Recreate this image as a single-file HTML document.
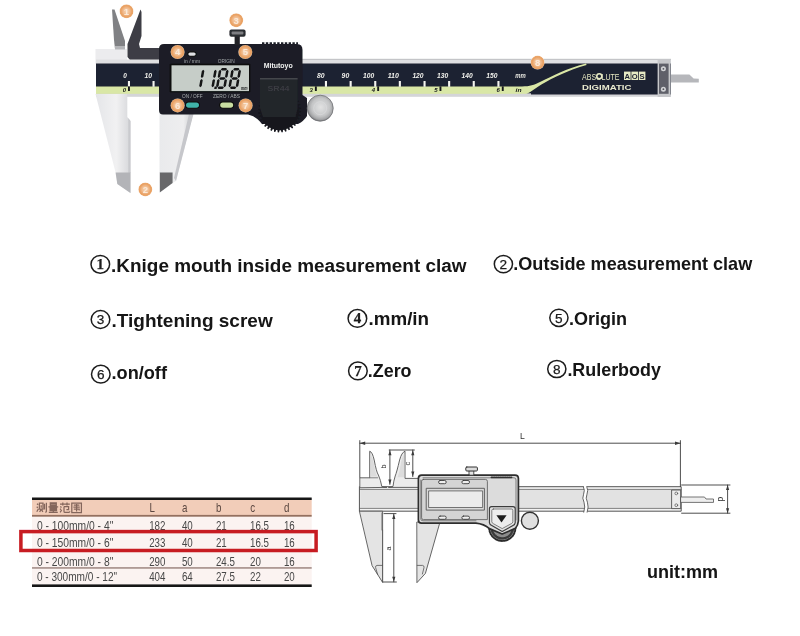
<!DOCTYPE html>
<html>
<head>
<meta charset="utf-8">
<title>Digital caliper</title>
<style>
html,body{margin:0;padding:0;background:#fff;}
body{width:800px;height:636px;overflow:hidden;font-family:"Liberation Sans",sans-serif;}
svg{display:block;}
text{font-family:"Liberation Sans",sans-serif;}
.ser{font-family:"Liberation Serif",serif;}
</style>
</head>
<body>
<svg width="800" height="636" viewBox="0 0 800 636">
<defs>
  <linearGradient id="gSilverV" x1="0" y1="0" x2="1" y2="0">
    <stop offset="0" stop-color="#dcdde0"/>
    <stop offset="0.5" stop-color="#f2f2f3"/>
    <stop offset="1" stop-color="#e3e4e6"/>
  </linearGradient>
  <linearGradient id="gJawL" x1="0" y1="0" x2="1" y2="0">
    <stop offset="0" stop-color="#e4e5e8"/>
    <stop offset="0.6" stop-color="#f1f1f2"/>
    <stop offset="1" stop-color="#d6d7da"/>
  </linearGradient>
  <linearGradient id="gJawR" x1="0" y1="0" x2="1" y2="0">
    <stop offset="0" stop-color="#e9eaec"/>
    <stop offset="0.7" stop-color="#eeeeef"/>
    <stop offset="1" stop-color="#c9cacd"/>
  </linearGradient>
  <radialGradient id="gKnob" cx="0.52" cy="0.46" r="0.56">
    <stop offset="0" stop-color="#e2e2e2"/>
    <stop offset="0.35" stop-color="#d2d3d4"/>
    <stop offset="0.62" stop-color="#c4c5c6"/>
    <stop offset="0.84" stop-color="#a5a6a8"/>
    <stop offset="1" stop-color="#6c6d70"/>
  </radialGradient>
  <radialGradient id="gOr" cx="0.5" cy="0.5" r="0.5">
    <stop offset="0" stop-color="#f6d3b4"/>
    <stop offset="0.45" stop-color="#f1bd90"/>
    <stop offset="0.8" stop-color="#e9a062"/>
    <stop offset="0.92" stop-color="#eba76c"/>
    <stop offset="1" stop-color="#f6dcc4"/>
  </radialGradient>
  <filter id="soft" x="-5%" y="-5%" width="110%" height="110%"><feGaussianBlur stdDeviation="0.65"/></filter>
  <filter id="soft2" x="-5%" y="-5%" width="110%" height="110%"><feGaussianBlur stdDeviation="0.4"/></filter>
</defs>
<rect width="800" height="636" fill="#ffffff"/>

<!-- ================= PHOTO CALIPER ================= -->
<g id="photo" filter="url(#soft)">
  <!-- depth rod -->
  <path d="M669 74.5 L689.4 74.5 L693.6 78.6 L698.8 78.8 L698.8 82.4 L669 82.4 Z" fill="#b6b7bb"/>
  <!-- fixed frame (silver, upper left block) -->
  <path d="M95.5 49 L127 49 L127 60 L160 60 L160 64 L95.5 64 Z" fill="#ececee"/>
  <!-- left inside jaw (gray) -->
  <path d="M112 9.5 L114.5 9.5 L125 41 L125 49 L115 49 L114 40 Z" fill="#808184"/>
  <path d="M115 46 L125 46 L125 49.5 L115 49.5 Z" fill="#b4b5b8"/>
  <!-- right inside jaw (dark) + arm -->
  <path d="M140.5 9.5 L141.5 12 L141.5 36 L139 44 L140 48 L160 48 L160 60 L130 60 L127.5 57 L127.5 44 Z" fill="#3c3e45"/>
  <!-- beam: top silver strip -->
  <rect x="96" y="59.5" width="575" height="5" fill="#dfe0e2"/>
  <rect x="300" y="58.8" width="371" height="1.2" fill="#c4c5c8"/>
  <!-- beam dark -->
  <rect x="96" y="63.5" width="575" height="30" fill="#1e2130"/>
  <!-- green band -->
  <path d="M96 86.5 L522 86.5 C530 86.3 534 85 540 82 C552 76 566 68.5 586 63.4 L586.6 65 C568 70 553 78 541.4 84.4 C536 87.4 532 91.4 526 94.3 L96 94.3 Z" fill="#d9e7a6"/>
  <!-- bottom silver strip -->
  <rect x="96" y="93.8" width="575" height="3" fill="#d4d5d8"/>
  <rect x="531" y="93" width="140" height="1.5" fill="#1e2130"/>
  <!-- end cap -->
  <rect x="657.6" y="59.4" width="13" height="37.6" fill="#c6c7ca"/>
  <rect x="659" y="63.6" width="9.6" height="30.2" fill="#5f6169"/>
  <circle cx="663.4" cy="68.8" r="2.5" fill="#d2d3d6"/><circle cx="663.4" cy="68.8" r="0.9" fill="#55565c"/>
  <circle cx="663.4" cy="89.2" r="2.5" fill="#d2d3d6"/><circle cx="663.4" cy="89.2" r="0.9" fill="#55565c"/>

  <!-- fixed lower jaw -->
  <path d="M95.5 94 L127.3 94 L127.3 117 L130.3 121 L130.3 193 L117.3 184 L115.6 172.5 Z" fill="url(#gJawL)"/>
  <path d="M128.3 118 L130.6 121 L130.6 173 L128.3 173 Z" fill="#c9cace"/>
  <path d="M115.6 172.5 L130.5 172.5 L130.5 193 L117.3 184 Z" fill="#b3b4b8"/>
  <!-- moving lower jaw -->
  <path d="M159.5 112 L193.5 112 L176 181 L172.5 183 L172.5 173 L159.5 173 Z" fill="url(#gJawR)"/>
  <path d="M189 114 L193.5 114 L176 181 L174 178 Z" fill="#c6c7cb"/>
  <path d="M159.8 172.5 L172.6 172.5 L172.6 183 L159.8 192.5 Z" fill="#67686b"/>


  <!-- thumb wheel (gear) -->
  
  <!-- display body -->
  <path d="M164 44 L297 44 Q302.5 44 302.5 50 L302.5 95 L307 98 L307 116 Q304 121 298 124 L262 124 Q256 116 248 114.5 L163 114.5 Q159 114.5 159 110 L159 49 Q159 44 164 44 Z" fill="#1d1f27"/>
  <polygon points="299.20,110.60 301.39,111.17 301.32,112.50 299.07,112.82 298.90,114.00 300.96,114.95 300.66,116.24 298.39,116.17 298.02,117.30 299.88,118.59 299.36,119.81 297.14,119.35 296.57,120.40 298.19,121.99 297.46,123.10 295.36,122.26 294.61,123.20 295.93,125.05 295.01,126.01 293.09,124.82 292.20,125.61 293.17,127.66 292.10,128.46 290.42,126.94 289.40,127.57 290.00,129.76 288.81,130.36 287.42,128.57 286.30,129.02 286.52,131.27 285.24,131.66 284.18,129.66 283.00,129.90 282.82,132.16 281.50,132.32 280.80,130.16 279.60,130.20 279.03,132.39 277.70,132.32 277.38,130.07 276.20,129.90 275.25,131.96 273.96,131.66 274.03,129.39 272.90,129.02 271.61,130.88 270.39,130.36 270.85,128.14 269.80,127.57 268.21,129.19 267.10,128.46 267.94,126.36 267.00,125.61 265.15,126.93 264.19,126.01 265.38,124.09 264.59,123.20 262.54,124.17 261.74,123.10 263.26,121.42 262.63,120.40 260.44,121.00 259.84,119.81 261.63,118.42 261.18,117.30 258.93,117.52 258.54,116.24 260.54,115.18 260.30,114.00 258.04,113.82 257.88,112.50 260.04,111.80 260.00,110.60 257.81,110.03 257.88,108.70 260.13,108.38 260.30,107.20 258.24,106.25 258.54,104.96 260.81,105.03 261.18,103.90 259.32,102.61 259.84,101.39 262.06,101.85 262.63,100.80 261.01,99.21 261.74,98.10 263.84,98.94 264.59,98.00 263.27,96.15 264.19,95.19 266.11,96.38 267.00,95.59 266.03,93.54 267.10,92.74 268.78,94.26 269.80,93.63 269.20,91.44 270.39,90.84 271.78,92.63 272.90,92.18 272.68,89.93 273.96,89.54 275.02,91.54 276.20,91.30 276.38,89.04 277.70,88.88 278.40,91.04 279.60,91.00 280.17,88.81 281.50,88.88 281.82,91.13 283.00,91.30 283.95,89.24 285.24,89.54 285.17,91.81 286.30,92.18 287.59,90.32 288.81,90.84 288.35,93.06 289.40,93.63 290.99,92.01 292.10,92.74 291.26,94.84 292.20,95.59 294.05,94.27 295.01,95.19 293.82,97.11 294.61,98.00 296.66,97.03 297.46,98.10 295.94,99.78 296.57,100.80 298.76,100.20 299.36,101.39 297.57,102.78 298.02,103.90 300.27,103.68 300.66,104.96 298.66,106.02 298.90,107.20 301.16,107.38 301.32,108.70 299.16,109.40" fill="#17181f"/>
  <!-- ridges on top right -->
  <path d="M262 43.3 H298" stroke="#1d1f27" stroke-width="2.2" stroke-dasharray="2.4 1.4" fill="none"/>
  <!-- screw on top -->
  <rect x="234.6" y="35" width="5.2" height="10" fill="#222327"/>
  <rect x="229.4" y="29.6" width="16.2" height="7.2" rx="2" fill="#2c2d31"/>
  <rect x="231.6" y="31.4" width="11.8" height="3.2" rx="1" fill="#7d7e82"/>
  <!-- LCD -->
  <rect x="169.5" y="63.5" width="81" height="29" rx="1.5" fill="#0c0d0f"/>
  <rect x="171.5" y="65.3" width="77.5" height="25.8" fill="#c6cdc8"/>
  <!-- silver lock knob -->
  <circle cx="320.2" cy="108.2" r="13" fill="url(#gKnob)" stroke="#6f7073" stroke-width="0.8"/><circle cx="320.2" cy="108.2" r="6.5" fill="none" stroke="#dcdcde" stroke-width="0.8" opacity="0.7"/>
  <!-- battery cover -->
  <path d="M260 78 L297.6 78 L297.6 108 L295.5 117 L263 117 L260 108 Z" fill="#23252a"/>
  <path d="M260 78 L297.6 78 L297.6 79.4 L260 79.4 Z" fill="#44464c"/>
  <text x="278.5" y="90.6" font-size="6.4" font-weight="bold" fill="#3a3c42" text-anchor="middle" textLength="22" lengthAdjust="spacingAndGlyphs">SR44</text>
  <!-- scale -->
  <rect x="127.9" y="81" width="2.1" height="5.8" fill="#f4f5f0"/>
  <text x="125.1" y="77.9" font-size="7.4" font-weight="bold" font-style="italic" fill="#eef0ec" text-anchor="middle" textLength="3.6" lengthAdjust="spacingAndGlyphs">0</text>
  <rect x="152.5" y="81" width="2.1" height="5.8" fill="#f4f5f0"/>
  <text x="148.3" y="77.9" font-size="7.4" font-weight="bold" font-style="italic" fill="#eef0ec" text-anchor="middle" textLength="7.6" lengthAdjust="spacingAndGlyphs">10</text>
  <rect x="324.9" y="81" width="2.1" height="5.8" fill="#f4f5f0"/>
  <text x="320.7" y="77.9" font-size="7.4" font-weight="bold" font-style="italic" fill="#eef0ec" text-anchor="middle" textLength="7.6" lengthAdjust="spacingAndGlyphs">80</text>
  <rect x="349.6" y="81" width="2.1" height="5.8" fill="#f4f5f0"/>
  <text x="345.4" y="77.9" font-size="7.4" font-weight="bold" font-style="italic" fill="#eef0ec" text-anchor="middle" textLength="7.6" lengthAdjust="spacingAndGlyphs">90</text>
  <rect x="374.2" y="81" width="2.1" height="5.8" fill="#f4f5f0"/>
  <text x="368.7" y="77.9" font-size="7.4" font-weight="bold" font-style="italic" fill="#eef0ec" text-anchor="middle" textLength="11.2" lengthAdjust="spacingAndGlyphs">100</text>
  <rect x="398.8" y="81" width="2.1" height="5.8" fill="#f4f5f0"/>
  <text x="393.3" y="77.9" font-size="7.4" font-weight="bold" font-style="italic" fill="#eef0ec" text-anchor="middle" textLength="11.2" lengthAdjust="spacingAndGlyphs">110</text>
  <rect x="423.5" y="81" width="2.1" height="5.8" fill="#f4f5f0"/>
  <text x="418.0" y="77.9" font-size="7.4" font-weight="bold" font-style="italic" fill="#eef0ec" text-anchor="middle" textLength="11.2" lengthAdjust="spacingAndGlyphs">120</text>
  <rect x="448.1" y="81" width="2.1" height="5.8" fill="#f4f5f0"/>
  <text x="442.6" y="77.9" font-size="7.4" font-weight="bold" font-style="italic" fill="#eef0ec" text-anchor="middle" textLength="11.2" lengthAdjust="spacingAndGlyphs">130</text>
  <rect x="472.7" y="81" width="2.1" height="5.8" fill="#f4f5f0"/>
  <text x="467.2" y="77.9" font-size="7.4" font-weight="bold" font-style="italic" fill="#eef0ec" text-anchor="middle" textLength="11.2" lengthAdjust="spacingAndGlyphs">140</text>
  <rect x="497.4" y="81" width="2.1" height="5.8" fill="#f4f5f0"/>
  <text x="491.9" y="77.9" font-size="7.4" font-weight="bold" font-style="italic" fill="#eef0ec" text-anchor="middle" textLength="11.2" lengthAdjust="spacingAndGlyphs">150</text>
  <text x="520.5" y="78.4" font-size="6.6" font-weight="bold" font-style="italic" fill="#e4e6e0" text-anchor="middle" textLength="10.5" lengthAdjust="spacingAndGlyphs">mm</text>
  <rect x="128.0" y="86.4" width="1.9" height="4.6" fill="#14161a"/>
  <text x="124.3" y="92.3" font-size="6" font-weight="bold" font-style="italic" fill="#14161a" text-anchor="middle">0</text>
  <rect x="314.9" y="86.4" width="1.9" height="4.6" fill="#14161a"/>
  <text x="311.2" y="92.3" font-size="6" font-weight="bold" font-style="italic" fill="#14161a" text-anchor="middle">3</text>
  <rect x="377.2" y="86.4" width="1.9" height="4.6" fill="#14161a"/>
  <text x="373.5" y="92.3" font-size="6" font-weight="bold" font-style="italic" fill="#14161a" text-anchor="middle">4</text>
  <rect x="439.5" y="86.4" width="1.9" height="4.6" fill="#14161a"/>
  <text x="435.8" y="92.3" font-size="6" font-weight="bold" font-style="italic" fill="#14161a" text-anchor="middle">5</text>
  <rect x="501.8" y="86.4" width="1.9" height="4.6" fill="#14161a"/>
  <text x="498.1" y="92.3" font-size="6" font-weight="bold" font-style="italic" fill="#14161a" text-anchor="middle">6</text>
  <text x="518.5" y="92.4" font-size="6.2" font-weight="bold" font-style="italic" fill="#14161a" text-anchor="middle" textLength="6" lengthAdjust="spacingAndGlyphs">in</text>
  <!-- digits -->
  <g transform="translate(0 88.9) skewX(-10) translate(0 -88.9)"><path d="M199.95 69.80 l1.25 1.25 v5.75 l-1.25 1.25 l-1.25 -1.25 v-5.75 Z M199.95 78.95 l1.25 1.25 v5.75 l-1.25 1.25 l-1.25 -1.25 v-5.75 Z M212.25 69.80 l1.25 1.25 v5.75 l-1.25 1.25 l-1.25 -1.25 v-5.75 Z M212.25 78.95 l1.25 1.25 v5.75 l-1.25 1.25 l-1.25 -1.25 v-5.75 Z M217.30 69.35 l1.25 -1.25 h3.90 l1.25 1.25 l-1.25 1.25 h-3.90 Z M224.15 69.80 l1.25 1.25 v5.75 l-1.25 1.25 l-1.25 -1.25 v-5.75 Z M224.15 78.95 l1.25 1.25 v5.75 l-1.25 1.25 l-1.25 -1.25 v-5.75 Z M217.30 87.65 l1.25 -1.25 h3.90 l1.25 1.25 l-1.25 1.25 h-3.90 Z M216.85 78.95 l1.25 1.25 v5.75 l-1.25 1.25 l-1.25 -1.25 v-5.75 Z M216.85 69.80 l1.25 1.25 v5.75 l-1.25 1.25 l-1.25 -1.25 v-5.75 Z M217.30 78.50 l1.25 -1.25 h3.90 l1.25 1.25 l-1.25 1.25 h-3.90 Z M229.70 69.35 l1.25 -1.25 h3.90 l1.25 1.25 l-1.25 1.25 h-3.90 Z M236.55 69.80 l1.25 1.25 v5.75 l-1.25 1.25 l-1.25 -1.25 v-5.75 Z M236.55 78.95 l1.25 1.25 v5.75 l-1.25 1.25 l-1.25 -1.25 v-5.75 Z M229.70 87.65 l1.25 -1.25 h3.90 l1.25 1.25 l-1.25 1.25 h-3.90 Z M229.25 78.95 l1.25 1.25 v5.75 l-1.25 1.25 l-1.25 -1.25 v-5.75 Z M229.25 69.80 l1.25 1.25 v5.75 l-1.25 1.25 l-1.25 -1.25 v-5.75 Z M229.70 78.50 l1.25 -1.25 h3.90 l1.25 1.25 l-1.25 1.25 h-3.90 Z" fill="#121417"/><rect x="214.2" y="86.4" width="2.4" height="2.5" fill="#121417"/></g>
  <text x="244.2" y="89.6" font-size="4.6" font-weight="bold" font-style="italic" fill="#1a1c1f" text-anchor="middle" textLength="6.6" lengthAdjust="spacingAndGlyphs">mm</text>
  <text x="192" y="63" font-size="4.6" fill="#a3a5a8" text-anchor="middle" textLength="16" lengthAdjust="spacingAndGlyphs">in / mm</text>
  <text x="226.3" y="63" font-size="4.6" fill="#a3a5a8" text-anchor="middle" textLength="17" lengthAdjust="spacingAndGlyphs">ORIGIN</text>
  <text x="192.3" y="97.8" font-size="4.8" fill="#a9abae" text-anchor="middle" textLength="20.5" lengthAdjust="spacingAndGlyphs">ON / OFF</text>
  <text x="226.6" y="97.8" font-size="4.8" fill="#a9abae" text-anchor="middle" textLength="27" lengthAdjust="spacingAndGlyphs">ZERO / ABS</text>
  <!-- buttons -->
  <rect x="187.4" y="51.6" width="9.2" height="5" rx="2.5" fill="#08090a"/>
  <rect x="188.3" y="52.4" width="7.4" height="3.4" rx="1.7" fill="#dfe0e3"/>
  <rect x="185" y="101.6" width="15" height="7" rx="3.5" fill="#090a0b"/>
  <rect x="186" y="102.4" width="13" height="5.4" rx="2.7" fill="#3fb3a8"/>
  <rect x="219.2" y="101.6" width="15" height="7" rx="3.5" fill="#090a0b"/>
  <rect x="220.2" y="102.4" width="13" height="5.4" rx="2.7" fill="#c9deA2"/>
  <!-- brand -->
  <text x="278.2" y="67.6" font-size="7.6" font-weight="bold" fill="#f0f0f0" text-anchor="middle" textLength="29" lengthAdjust="spacingAndGlyphs">Mitutoyo</text>
  <!-- absolute / digimatic -->
  <text x="582" y="79.6" font-size="9.4" fill="#e6eac4" textLength="37.5" lengthAdjust="spacingAndGlyphs">ABSOLUTE</text>
  <circle cx="599.3" cy="76.2" r="2.5" fill="#1e2130" stroke="#e6eac4" stroke-width="1.5"/>
  <rect x="624" y="71.6" width="6.6" height="8.4" fill="#e6eac4"/><rect x="631.4" y="71.6" width="6.6" height="8.4" fill="#e6eac4"/><rect x="638.8" y="71.6" width="6.6" height="8.4" fill="#e6eac4"/>
  <text x="627.3" y="78.9" font-size="7.6" font-weight="bold" fill="#1e2130" text-anchor="middle">A</text>
  <text x="634.7" y="78.9" font-size="7.6" font-weight="bold" fill="#1e2130" text-anchor="middle">O</text>
  <text x="642.1" y="78.9" font-size="7.6" font-weight="bold" fill="#1e2130" text-anchor="middle">S</text>
  <text x="582" y="90.2" font-size="6.4" font-weight="bold" fill="#e8ebd0" textLength="49.5" lengthAdjust="spacingAndGlyphs">DIGIMATIC</text>
  <!-- orange markers -->
  <circle cx="126.5" cy="11.3" r="7" fill="url(#gOr)"/><text x="126.5" y="14.700000000000001" font-size="9.5" font-weight="bold" fill="#fbe9d8" text-anchor="middle">1</text>
  <circle cx="145.3" cy="189.4" r="7" fill="url(#gOr)"/><text x="145.3" y="192.8" font-size="9.5" font-weight="bold" fill="#fbe9d8" text-anchor="middle">2</text>
  <circle cx="236.2" cy="20.2" r="7" fill="url(#gOr)"/><text x="236.2" y="23.6" font-size="9.5" font-weight="bold" fill="#fbe9d8" text-anchor="middle">3</text>
  <circle cx="177.6" cy="52" r="7" fill="url(#gOr)"/><text x="177.6" y="55.4" font-size="9.5" font-weight="bold" fill="#fbe9d8" text-anchor="middle">4</text>
  <circle cx="245.3" cy="52" r="7" fill="url(#gOr)"/><text x="245.3" y="55.4" font-size="9.5" font-weight="bold" fill="#fbe9d8" text-anchor="middle">5</text>
  <circle cx="177.6" cy="105.4" r="7" fill="url(#gOr)"/><text x="177.6" y="108.80000000000001" font-size="9.5" font-weight="bold" fill="#fbe9d8" text-anchor="middle">6</text>
  <circle cx="245.6" cy="105.4" r="7" fill="url(#gOr)"/><text x="245.6" y="108.80000000000001" font-size="9.5" font-weight="bold" fill="#fbe9d8" text-anchor="middle">7</text>
  <circle cx="537.6" cy="62.6" r="7" fill="url(#gOr)"/><text x="537.6" y="66.0" font-size="9.5" font-weight="bold" fill="#fbe9d8" text-anchor="middle">8</text>
</g>
<!-- ================= LEGEND TEXT ================= -->
<g id="legend" filter="url(#soft2)">
<ellipse cx="100.3" cy="264.3" rx="9.3" ry="8.9" fill="none" stroke="#1c1c1c" stroke-width="1.5"/><text x="100.3" y="269.2" font-size="15" font-weight="bold" fill="#1c1c1c" stroke="#1c1c1c" stroke-width="0.25" text-anchor="middle" style="font-family:'Liberation Serif',serif">1</text>
<text x="111.1" y="271.5" font-size="18.93" font-weight="bold" fill="#131313">.Knige mouth inside measurement claw</text>
<ellipse cx="503.4" cy="264.1" rx="9.1" ry="8.6" fill="none" stroke="#1c1c1c" stroke-width="1.5"/><text x="503.4" y="269.0" font-size="13.6" font-weight="normal" fill="#1c1c1c" stroke="#1c1c1c" stroke-width="0.25" text-anchor="middle" style="font-family:'Liberation Sans',sans-serif">2</text>
<text x="513.3" y="270.2" font-size="18.07" font-weight="bold" fill="#131313">.Outside measurement claw</text>
<ellipse cx="100.5" cy="319.5" rx="9.3" ry="8.9" fill="none" stroke="#1c1c1c" stroke-width="1.5"/><text x="100.5" y="324.4" font-size="13.6" font-weight="normal" fill="#1c1c1c" stroke="#1c1c1c" stroke-width="0.25" text-anchor="middle" style="font-family:'Liberation Sans',sans-serif">3</text>
<text x="111.5" y="326.5" font-size="19.0" font-weight="bold" fill="#131313">.Tightening screw</text>
<ellipse cx="357.4" cy="318.4" rx="9.3" ry="8.9" fill="none" stroke="#1c1c1c" stroke-width="1.5"/><text x="357.4" y="323.3" font-size="15" font-weight="bold" fill="#1c1c1c" stroke="#1c1c1c" stroke-width="0.25" text-anchor="middle" style="font-family:'Liberation Serif',serif">4</text>
<text x="368.6" y="324.9" font-size="18.75" font-weight="bold" fill="#131313">.mm/in</text>
<ellipse cx="558.9" cy="317.8" rx="9.1" ry="8.6" fill="none" stroke="#1c1c1c" stroke-width="1.5"/><text x="558.9" y="322.7" font-size="13.6" font-weight="normal" fill="#1c1c1c" stroke="#1c1c1c" stroke-width="0.25" text-anchor="middle" style="font-family:'Liberation Sans',sans-serif">5</text>
<text x="569.1" y="324.5" font-size="18.0" font-weight="bold" fill="#131313">.Origin</text>
<ellipse cx="100.8" cy="374.2" rx="9.3" ry="8.9" fill="none" stroke="#1c1c1c" stroke-width="1.5"/><text x="100.8" y="379.1" font-size="13.6" font-weight="normal" fill="#1c1c1c" stroke="#1c1c1c" stroke-width="0.25" text-anchor="middle" style="font-family:'Liberation Sans',sans-serif">6</text>
<text x="111.5" y="379.05" font-size="18.17" font-weight="bold" fill="#131313">.on/off</text>
<ellipse cx="357.9" cy="370.9" rx="9.3" ry="8.9" fill="none" stroke="#1c1c1c" stroke-width="1.5"/><text x="357.9" y="375.8" font-size="15" font-weight="bold" fill="#1c1c1c" stroke="#1c1c1c" stroke-width="0.25" text-anchor="middle" style="font-family:'Liberation Serif',serif">7</text>
<text x="367.8" y="377.3" font-size="17.9" font-weight="bold" fill="#131313">.Zero</text>
<ellipse cx="556.8" cy="369" rx="9.1" ry="8.6" fill="none" stroke="#1c1c1c" stroke-width="1.5"/><text x="556.8" y="373.9" font-size="13.6" font-weight="normal" fill="#1c1c1c" stroke="#1c1c1c" stroke-width="0.25" text-anchor="middle" style="font-family:'Liberation Sans',sans-serif">8</text>
<text x="567.4" y="376" font-size="17.9" font-weight="bold" fill="#131313">.Rulerbody</text>
<text x="647.1" y="577.6" font-size="18" font-weight="bold" fill="#131313">unit:mm</text>
</g>
<!-- ================= TABLE ================= -->
<g id="table" filter="url(#soft2)">
<rect x="32" y="499.5" width="279.7" height="15.8" fill="#f2cdb9"/>
<rect x="32" y="516.5" width="279.7" height="68" fill="#fbf3f1"/>
<rect x="32" y="497.5" width="279.7" height="2.5" fill="#161616"/>
<rect x="32" y="584.4" width="279.7" height="2.6" fill="#161616"/>
<rect x="32" y="514.9" width="279.7" height="1.8" fill="#94705f"/>
<rect x="32" y="567.4" width="279.7" height="1.1" fill="#7d6058"/>
<text x="36.9" y="529.8" font-size="13" fill="#474747" textLength="76.4" lengthAdjust="spacingAndGlyphs">0 - 100mm/0 - 4&quot;</text>
<text transform="translate(149.2 529.8) scale(0.75 1)" font-size="13" fill="#474747">182</text>
<text transform="translate(181.9 529.8) scale(0.75 1)" font-size="13" fill="#474747">40</text>
<text transform="translate(215.9 529.8) scale(0.75 1)" font-size="13" fill="#474747">21</text>
<text transform="translate(250 529.8) scale(0.75 1)" font-size="13" fill="#474747">16.5</text>
<text transform="translate(283.9 529.8) scale(0.75 1)" font-size="13" fill="#474747">16</text>
<text x="36.9" y="547.4" font-size="13" fill="#474747" textLength="76.4" lengthAdjust="spacingAndGlyphs">0 - 150mm/0 - 6&quot;</text>
<text transform="translate(149.2 547.4) scale(0.75 1)" font-size="13" fill="#474747">233</text>
<text transform="translate(181.9 547.4) scale(0.75 1)" font-size="13" fill="#474747">40</text>
<text transform="translate(215.9 547.4) scale(0.75 1)" font-size="13" fill="#474747">21</text>
<text transform="translate(250 547.4) scale(0.75 1)" font-size="13" fill="#474747">16.5</text>
<text transform="translate(283.9 547.4) scale(0.75 1)" font-size="13" fill="#474747">16</text>
<text x="36.9" y="565.6" font-size="13" fill="#474747" textLength="76.4" lengthAdjust="spacingAndGlyphs">0 - 200mm/0 - 8&quot;</text>
<text transform="translate(149.2 565.6) scale(0.75 1)" font-size="13" fill="#474747">290</text>
<text transform="translate(181.9 565.6) scale(0.75 1)" font-size="13" fill="#474747">50</text>
<text transform="translate(215.9 565.6) scale(0.75 1)" font-size="13" fill="#474747">24.5</text>
<text transform="translate(250 565.6) scale(0.75 1)" font-size="13" fill="#474747">20</text>
<text transform="translate(283.9 565.6) scale(0.75 1)" font-size="13" fill="#474747">16</text>
<text x="36.9" y="581.4" font-size="13" fill="#474747" textLength="80.2" lengthAdjust="spacingAndGlyphs">0 - 300mm/0 - 12&quot;</text>
<text transform="translate(149.2 581.4) scale(0.75 1)" font-size="13" fill="#474747">404</text>
<text transform="translate(181.9 581.4) scale(0.75 1)" font-size="13" fill="#474747">64</text>
<text transform="translate(215.9 581.4) scale(0.75 1)" font-size="13" fill="#474747">27.5</text>
<text transform="translate(250 581.4) scale(0.75 1)" font-size="13" fill="#474747">22</text>
<text transform="translate(283.9 581.4) scale(0.75 1)" font-size="13" fill="#474747">20</text>
<text transform="translate(149.39999999999998 512) scale(0.75 1)" font-size="13" fill="#5b4740">L</text>
<text transform="translate(182.1 512) scale(0.75 1)" font-size="13" fill="#5b4740">a</text>
<text transform="translate(216.1 512) scale(0.75 1)" font-size="13" fill="#5b4740">b</text>
<text transform="translate(250.2 512) scale(0.75 1)" font-size="13" fill="#5b4740">c</text>
<text transform="translate(284.09999999999997 512) scale(0.75 1)" font-size="13" fill="#5b4740">d</text>
<path d="M37.0 503.7 l1.2 1 M36.7 506.7 l1.2 1 M36.800000000000004 511.7 l1.6 -3 M39.400000000000006 503.2 h3.6 v6 h-3.6 z M41.2 505.2 v2.5 M39.6 512.0 l1.4 -2.4 M41.6 509.8 l1.3 2 M44.5 503.8 v5.6 M46.400000000000006 502.8 v8.6 q0 0.8 -1.2 0.8" stroke="#84665c" stroke-width="1.25" fill="none"/>
<path d="M50.300000000000004 502.8 h6 v2.8 h-6 z M50.300000000000004 504.2 h6 M48.400000000000006 506.8 h9.8 M50.1 508.0 h6.4 v2.6 h-6.4 z M50.1 509.3 h6.4 M53.300000000000004 508.0 v4.4 M48.800000000000004 512.4 h9" stroke="#84665c" stroke-width="1.25" fill="none"/>
<path d="M60.00000000000001 504.0 h9.8 M62.800000000000004 502.59999999999997 v2.8 M67.0 502.59999999999997 v2.8 M60.300000000000004 506.59999999999997 l1.2 0.9 M60.00000000000001 508.8 l1.2 0.9 M60.10000000000001 512.4 l1.6 -2.4 M64.0 506.59999999999997 h4.6 v3 h-2.2 M64.0 506.59999999999997 v4.8 q0 1 1 1 h3.8 q1 0 1 -1.2" stroke="#84665c" stroke-width="1.25" fill="none"/>
<path d="M71.8 503.0 h9.6 v9.6 h-9.6 z M73.8 505.2 h5.6 M73.4 507.2 h6.4 M73.8 509.2 h5.4 v1.4 M76.6 504.0 v7.4" stroke="#84665c" stroke-width="1.25" fill="none"/>
<rect x="20.9" y="531.6" width="295.2" height="18.9" fill="none" stroke="#c71a21" stroke-width="3.5"/>
</g>
<!-- ================= LINE DRAWING ================= -->
<g id="drawing" filter="url(#soft2)" stroke-linejoin="round" stroke-linecap="round">
<rect x="359.8" y="486.7" width="321.4" height="24.5" fill="#f2f2f2" stroke="#555" stroke-width="1"/>
<rect x="360.3" y="489.4" width="320.4" height="19" fill="#e2e2e2"/>
<path d="M359.8 489.4 H681 M359.8 508.4 H681" stroke="#555" stroke-width="0.7" fill="none"/>
<path d="M583.4 486 q1.8 4 0.2 8 q-1.8 4 0.4 8 q1.6 4.5 -0.2 10.4 h3.4 q1.8 -5.9 0.2 -10.4 q-2.2 -4 -0.4 -8 q1.6 -4 -0.2 -8 z" fill="#ffffff"/>
<path d="M583.4 486.6 q1.8 4 0.2 7.6 q-1.8 4 0.4 8 q1.6 4.5 -0.2 10" fill="none" stroke="#555" stroke-width="0.9"/>
<path d="M586.8 486.6 q1.8 4 0.2 7.6 q-1.8 4 0.4 8 q1.6 4.5 -0.2 10" fill="none" stroke="#555" stroke-width="0.9"/>
<rect x="672" y="490" width="8.6" height="18.6" fill="#ececec" stroke="#555" stroke-width="0.9"/>
<circle cx="676.3" cy="493.4" r="1.4" fill="none" stroke="#555" stroke-width="0.7"/><circle cx="676.3" cy="505.2" r="1.4" fill="none" stroke="#555" stroke-width="0.7"/>
<path d="M681 497 H704.5 L706 499 H713.5 V502.4 H681 Z" fill="#eeeeee" stroke="#555" stroke-width="0.8"/>
<path d="M359.8 487.4 V477.8 H369.7 V451.2 Q372.4 452 374.2 460 Q376.4 472 378.4 475 Q380.6 480 381.8 486.4 Q383.4 487.6 386.5 487.4 Z" fill="#ececec" stroke="#555" stroke-width="0.9"/>
<path d="M370.6 454 Q373 458 374.2 466 Q375.4 473 377.4 476.6 H370.6 Z" fill="#dcdcdc" stroke="none"/>
<path d="M369.7 477.8 H377.6" stroke="#555" stroke-width="0.7" fill="none"/>
<path d="M418.4 478.4 H405 V451.2 Q401.6 452.5 399.6 460 Q396.8 472 395.2 476 Q393.6 481 393 486.4 Q391.4 487.6 388.4 487.4 H418.4 Z" fill="#ececec" stroke="#555" stroke-width="0.9"/>
<path d="M404.2 454 Q401.4 458 400.4 466 Q399.4 473 397.6 477.2 H404.2 Z" fill="#dcdcdc" stroke="none"/>
<path d="M359.8 511.2 H382.6 V582.4 L372.3 566 Z" fill="#e4e4e4" stroke="#555" stroke-width="0.9"/>
<path d="M382.6 565.4 H377 Q375.2 565.6 375.6 567.6 L377.6 574.4" fill="none" stroke="#555" stroke-width="0.8"/>
<path d="M381.8 513 V530 M382.6 530 V582" stroke="#555" stroke-width="0.6" fill="none"/>
<path d="M417.2 522 H440 L425.4 573.4 L417.2 582.4 Z" fill="#e4e4e4" stroke="#555" stroke-width="0.9"/>
<path d="M417.2 565.4 H422.6 Q424.4 565.6 424 567.6 L422.4 574" fill="none" stroke="#555" stroke-width="0.8"/>
<path d="M359.8 440.6 V477.4 M680.4 440.6 V486.6 M359.8 443.2 H680.4" stroke="#3a3a3a" stroke-width="0.9" fill="none"/>
<path d="M359.8 443.2 l5.4 -1.7 v3.4 z M680.4 443.2 l-5.4 -1.7 v3.4 z" fill="#3a3a3a" stroke="none"/>
<text x="522.4" y="439.4" font-size="8.6" fill="#333" text-anchor="middle" stroke="none">L</text>
<path d="M389.9 450 V484.4 M389.2 450 H414.4 M412.8 450 V476.6" stroke="#3a3a3a" stroke-width="0.9" fill="none"/>
<path d="M389.9 450.2 l-1.6 5 h3.2 z M389.9 484.4 l-1.6 -5 h3.2 z M412.8 450.2 l-1.6 5 h3.2 z M412.8 476.6 l-1.6 -5 h3.2 z" fill="#3a3a3a" stroke="none"/>
<text transform="translate(386.4 466.4) rotate(-90)" font-size="7.2" fill="#333" text-anchor="middle" stroke="none">b</text>
<text transform="translate(410 463.6) rotate(-90)" font-size="7.2" fill="#333" text-anchor="middle" stroke="none">c</text>
<path d="M393.8 514 V581.8 M384 513.6 H396 M383 582 H396.4" stroke="#3a3a3a" stroke-width="0.9" fill="none"/>
<path d="M393.8 514 l-1.6 5 h3.2 z M393.8 581.8 l-1.6 -5 h3.2 z" fill="#3a3a3a" stroke="none"/>
<text transform="translate(390.8 548.4) rotate(-90)" font-size="7.2" fill="#333" text-anchor="middle" stroke="none">a</text>
<path d="M681.6 485 H730 M681.6 513.2 H730 M727.6 485 V513.2" stroke="#3a3a3a" stroke-width="0.9" fill="none"/>
<path d="M727.6 485 l-1.6 5 h3.2 z M727.6 513.2 l-1.6 -5 h3.2 z" fill="#3a3a3a" stroke="none"/>
<text transform="translate(718.2 499.2) rotate(90)" font-size="8.6" fill="#333" text-anchor="middle" stroke="none">d</text>
<circle cx="529.9" cy="520.7" r="8.5" fill="#e0e0e0" stroke="#333" stroke-width="1.4"/>
<circle cx="502.3" cy="527.8" r="13.2" fill="#8c8c8c" stroke="#2c2c2c" stroke-width="1.8" stroke-dasharray="1.5 1.1"/>
<circle cx="502.3" cy="527.8" r="10.6" fill="none" stroke="#3a3a3a" stroke-width="2.4" stroke-dasharray="1.2 1.4"/>
<path d="M421.6 475.2 H515 Q518.4 475.2 518.4 478.6 V521 Q518 525.6 515.4 528.4 L502.2 534 L489.4 528.6 Q484 524 476 523.2 H421.6 Q418.4 523.2 418.4 520 V478.6 Q418.4 475.2 421.6 475.2 Z" fill="#dcdcdc" stroke="#2e2e2e" stroke-width="1.7"/>
<path d="M423 477.8 H514 Q516 477.8 516 480 V520 M420.8 480 V519 Q420.8 520.8 423 520.8 H476" fill="none" stroke="#555" stroke-width="0.7"/>
<path d="M491.4 477.4 H511.6" stroke="#333" stroke-width="1.6" stroke-dasharray="1.2 1" fill="none"/>
<path d="M423.4 479.4 H485.4 Q487.4 479.4 487.4 481.4 V519.6 H423.4 Q421.6 519.6 421.6 517.8 V481.2 Q421.6 479.4 423.4 479.4 Z" fill="#d4d4d4" stroke="#555" stroke-width="0.8"/>
<rect x="426.6" y="488.3" width="57.8" height="21.8" fill="#dadada" stroke="#555" stroke-width="0.9"/>
<rect x="429" y="490.9" width="53.6" height="16.6" fill="#ebebeb" stroke="#555" stroke-width="0.8"/>
<rect x="438.59999999999997" y="480.5" width="7.6" height="3.2" rx="1.5" fill="#efefef" stroke="#3a3a3a" stroke-width="0.9"/>
<rect x="461.9" y="480.5" width="7.6" height="3.2" rx="1.5" fill="#efefef" stroke="#3a3a3a" stroke-width="0.9"/>
<rect x="438.59999999999997" y="516.1" width="7.6" height="3.2" rx="1.5" fill="#efefef" stroke="#3a3a3a" stroke-width="0.9"/>
<rect x="461.9" y="516.1" width="7.6" height="3.2" rx="1.5" fill="#efefef" stroke="#3a3a3a" stroke-width="0.9"/>
<rect x="469.4" y="470.6" width="4.4" height="4.6" fill="#e4e4e4" stroke="#3a3a3a" stroke-width="0.9"/>
<rect x="465.8" y="467" width="11.6" height="4" rx="1" fill="#dcdcdc" stroke="#333" stroke-width="1"/>
<path d="M491.6 506.6 H513 Q515.2 506.6 515.2 508.8 V522.6 Q515 524.6 513 525.6 L502.2 531.4 L491.8 525.6 Q489.6 524.6 489.4 522.6 V508.8 Q489.4 506.6 491.6 506.6 Z" fill="#e2e2e2" stroke="#3a3a3a" stroke-width="1.1"/>
<path d="M493.4 509 H511.4 Q512.8 509 512.8 510.4 V521.8 Q512.6 523 511.4 523.6 L502.2 528.6 L493.2 523.6 Q492 523 491.8 521.8 V510.4 Q491.8 509 493.4 509 Z" fill="#ededed" stroke="#555" stroke-width="0.7"/>
<path d="M496.4 515.2 H506.6 L501.5 522.6 Z" fill="#1e1e1e" stroke="none"/>
</g>
</svg>
</body>
</html>
